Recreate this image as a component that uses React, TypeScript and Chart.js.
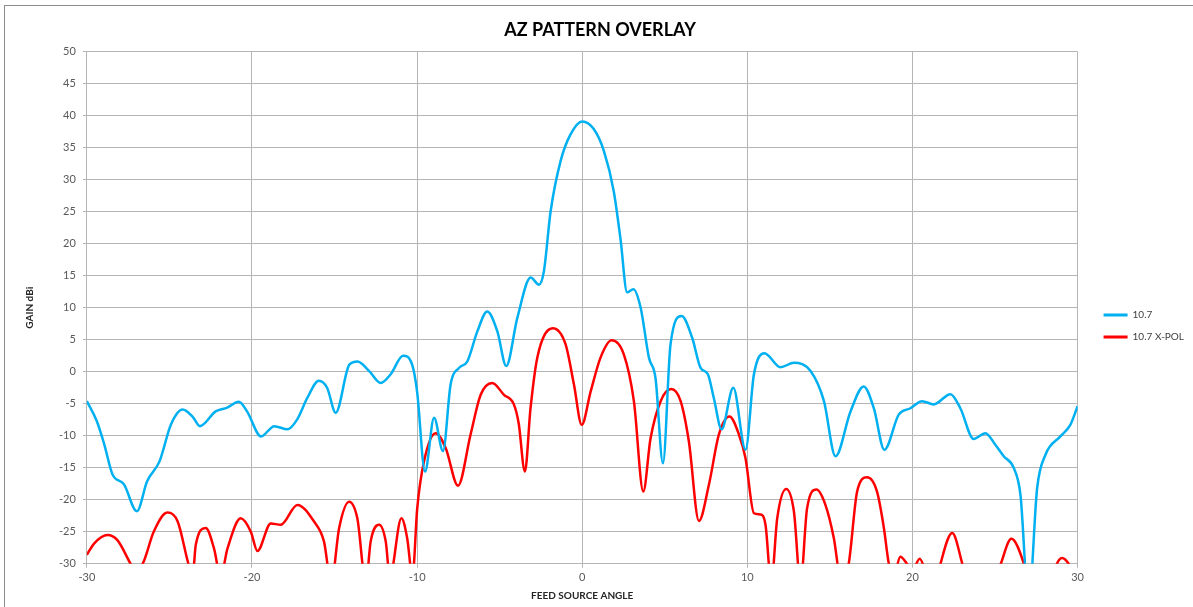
import { useEffect, useRef } from 'react';
import { Chart, registerables } from 'chart.js';

Chart.register(...registerables);

// 10.7 (co-pol) series: feed source angle (deg) and gain (dBi)
const angle107 = [
  -30, -29.4, -28.95, -28.45, -27.75, -26.97, -26.35, -25.6, -24.9, -24.2,
  -23.6, -23.15, -22.2, -21.5, -20.8, -20.3, -19.45, -18.65, -17.85, -17.25,
  -16.65, -15.95, -15.45, -14.93, -14.1, -13.6, -12.9, -12.2, -11.6, -10.85,
  -10.3, -10.0, -9.52, -8.97, -8.43, -7.97, -7.46, -6.96, -6.35, -5.75,
  -5.14, -4.6, -3.93, -3.12, -2.62, -2.32, -1.91, -1.31, -0.7, 0,
  0.7, 1.31, 1.91, 2.32, 2.72, 3.1, 3.54, 4.04, 4.44, 4.89,
  5.35, 6.02, 6.66, 7.17, 7.61, 7.97, 8.44, 9.15, 9.89, 10.4,
  11.04, 12.01, 12.82, 13.83, 14.64, 15.34, 16.25, 17.05, 17.66, 18.3,
  19.17, 19.88, 20.58, 21.29, 22.3, 22.9, 23.71, 24.42, 25.02, 25.53,
  26.13, 26.54, 27.04, 27.55, 28.05, 28.96, 29.56, 30,
];
const gain107 = [
  -4.6, -7.7, -11.3, -16.0, -17.6, -21.8, -17.1, -14.0, -8.2, -5.9,
  -7.0, -8.5, -6.2, -5.6, -4.7, -6.2, -10.1, -8.5, -9.0, -7.4,
  -4.1, -1.4, -2.5, -6.4, 1.1, 1.6, 0.1, -1.75, -0.4, 2.5,
  1.1, -3.1, -15.6, -7.2, -12.4, -2.0, 0.6, 1.6, 6.3, 9.4,
  6.3, 0.9, 8.4, 14.7, 13.6, 15.7, 25.1, 32.9, 37.1, 39.1,
  37.9, 34.5, 28.2, 20.7, 12.4, 12.9, 10.0, 2.2, -1.0, -14.3,
  4.3, 8.7, 5.3, 0.6, -0.4, -4.1, -9.0, -2.5, -12.2, -0.4,
  2.9, 0.7, 1.4, 0.1, -4.6, -13.2, -6.2, -2.3, -5.7, -12.2,
  -6.7, -5.7, -4.6, -5.1, -3.5, -5.7, -10.5, -9.6, -11.4, -13.2,
  -15.0, -19.2, -36, -18.2, -13.0, -10.1, -8.3, -5.4,
];

// 10.7 X-POL series
const angleXpol = [
  -30, -29.55, -28.75, -28.15, -27.35, -27.0, -26.55, -25.95, -25.12, -24.5,
  -23.85, -23.6, -23.4, -22.8, -22.3, -21.9, -21.48, -20.68, -20.07, -19.67,
  -18.86, -18.26, -17.25, -16.24, -15.64, -15.2, -14.72, -14.12, -13.62, -13.1,
  -12.81, -12.3, -11.9, -11.65, -10.95, -10.6, -10.28, -9.99, -9.58, -8.88,
  -8.27, -7.52, -6.76, -6.15, -5.45, -4.74, -4.14, -3.85, -3.47, -3.13,
  -2.72, -1.78, -1.01, -0.5, -0.03, 0.51, 1.11, 1.78, 2.52, 3.13,
  3.7, 4.14, 4.75, 5.39, 5.96, 6.46, 7.07, 7.67, 8.28, 8.92,
  9.49, 9.89, 10.4, 10.8, 11.1, 11.45, 11.81, 12.35, 12.82, 13.22,
  13.62, 14.19, 14.73, 15.24, 15.7, 16.14, 16.65, 17.25, 17.85, 18.27,
  18.57, 18.85, 19.27, 19.67, 20.0, 20.44, 20.75, 21.2, 21.7, 22.41,
  23.02, 24.0, 25.35, 25.99, 26.75, 27.7, 28.75, 29.06, 29.46, 30,
];
const gainXpol = [
  -28.6, -26.8, -25.5, -26.3, -30, -31.5, -29.6, -25, -22.0, -23.4,
  -30, -32, -27, -24.4, -27.6, -32, -27.6, -22.9, -25, -28.0,
  -23.7, -23.9, -20.8, -23.4, -26.5, -33, -24.4, -20.3, -22.9, -33,
  -26.5, -23.9, -26.5, -32, -22.9, -26, -32, -21.3, -14.0, -9.6,
  -11.9, -17.8, -9.8, -3.6, -1.75, -3.6, -5.1, -8, -15.6, -5.7,
  2.2, 6.8, 4.3, -2.0, -8.3, -3.1, 2.2, 4.9, 2.7, -4.6,
  -18.7, -10.4, -4.6, -2.7, -4.6, -10.9, -23.3, -17.7, -9.8, -7.0,
  -9.8, -13.5, -22.1, -22.3, -23.9, -33, -22.9, -18.3, -21.8, -33,
  -21.3, -18.4, -20.8, -26.0, -33, -30, -18.7, -16.5, -18.7, -24.4,
  -30, -32, -28.9, -30, -31, -29.2, -31, -36, -30, -25.2,
  -30, -40, -30, -26.1, -30, -40, -30, -29.1, -30, -33,
];

const seriesNames = ['10.7', '10.7 X-POL'];
const seriesColors = ['#00B0F0', '#FF0000'];
const xTickValues = [-30, -20, -10, 0, 10, 20, 30];
const yTickValues = [-30, -25, -20, -15, -10, -5, 0, 5, 10, 15, 20, 25, 30, 35, 40, 45, 50];

const FONT = 'Lato, "Open Sans", "DejaVu Sans", sans-serif';

export default function App() {
  const ref = useRef<HTMLCanvasElement>(null);

  useEffect(() => {
    document.body.style.margin = '0';
    document.body.style.overflow = 'hidden';
    const toPts = (xs: number[], ys: number[]) => xs.map((x, i) => ({ x, y: ys[i] }));

    const legendShift = {
      id: 'legendShift',
      afterLayout(chart: any) {
        const lg = chart.legend;
        if (!lg) return;
        const dx = 14;
        const dy = 21;
        lg.left += dx;
        lg.right += dx;
        lg.top += dy;
        lg.bottom += dy;
      },
    };

    const chart = new Chart(ref.current!, {
      type: 'line',
      data: {
        datasets: [
          {
            label: seriesNames[0],
            data: toPts(angle107, gain107),
            borderColor: seriesColors[0],
            backgroundColor: seriesColors[0],
            borderWidth: 2.5,
            pointRadius: 0,
            cubicInterpolationMode: 'monotone',
            fill: false,
            clip: 0,
          },
          {
            label: seriesNames[1],
            data: toPts(angleXpol, gainXpol),
            borderColor: seriesColors[1],
            backgroundColor: seriesColors[1],
            borderWidth: 2.5,
            pointRadius: 0,
            cubicInterpolationMode: 'monotone',
            fill: false,
            clip: 0,
          },
        ],
      },
      plugins: [legendShift],
      options: {
        responsive: false,
        animation: false,
        devicePixelRatio: 1,
        layout: { padding: { left: 20, right: 13, top: 6, bottom: 3 } },
        plugins: {
          title: {
            display: true,
            text: 'AZ PATTERN OVERLAY',
            color: '#000000',
            font: { family: FONT, size: 18, weight: 'bold' },
            padding: { top: 13, bottom: 11 },
          },
          legend: {
            display: true,
            position: 'right',
            labels: {
              color: '#404040',
              font: { family: FONT, size: 10 },
              boxWidth: 24,
              boxHeight: 3,
              padding: 12,
              generateLabels: (chart: any) =>
                chart.data.datasets.map((ds: any, i: number) => ({
                  text: ds.label,
                  fillStyle: ds.borderColor,
                  strokeStyle: ds.borderColor,
                  lineWidth: 0,
                  hidden: false,
                  datasetIndex: i,
                  fontColor: '#404040',
                })),
            },
          },
          tooltip: { enabled: false },
        },
        scales: {
          x: {
            type: 'linear',
            min: -30,
            max: 30,
            afterBuildTicks: (s: any) => {
              s.ticks = xTickValues.map((v) => ({ value: v }));
            },
            ticks: { color: '#595959', font: { family: FONT, size: 11 }, padding: 3 },
            grid: { color: '#b5b5b5', lineWidth: 1, tickLength: 4 },
            border: { color: '#b5b5b5' },
            title: {
              display: true,
              text: 'FEED SOURCE ANGLE',
              color: '#262626',
              font: { family: FONT, size: 10, weight: 'bold' },
              padding: { top: 3, bottom: 2 },
            },
          },
          y: {
            type: 'linear',
            min: -30,
            max: 50,
            afterBuildTicks: (s: any) => {
              s.ticks = yTickValues.map((v) => ({ value: v }));
            },
            ticks: { color: '#595959', font: { family: FONT, size: 11 }, padding: 7 },
            grid: { color: '#b5b5b5', lineWidth: 1, tickLength: 4 },
            border: { color: '#b5b5b5' },
            title: {
              display: true,
              text: 'GAIN dBi',
              color: '#262626',
              font: { family: FONT, size: 10, weight: 'bold' },
              padding: { top: 4, bottom: 16 },
            },
          },
        },
      },
    } as any);
    return () => chart.destroy();
  }, []);

  return (
    <div style={{ position: 'relative', width: 1193, height: 607, background: '#ffffff', overflow: 'hidden' }}>
      <canvas ref={ref} width={1193} height={607} style={{ position: 'absolute', left: 0, top: 0 }} />
      <div
        style={{
          position: 'absolute',
          left: 4,
          top: 5,
          width: 1200,
          height: 620,
          borderLeft: '1px solid #8c8c8c',
          borderTop: '1px solid #8c8c8c',
          pointerEvents: 'none',
        }}
      />
    </div>
  );
}
